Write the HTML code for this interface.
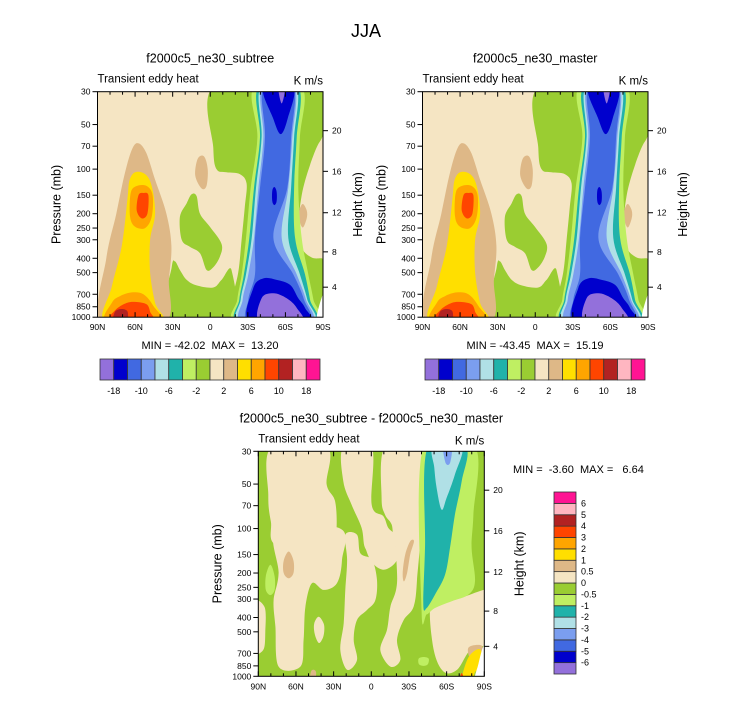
<!DOCTYPE html>
<html><head><meta charset="utf-8"><style>
html,body{margin:0;padding:0;background:#fff}
svg{display:block;font-family:"Liberation Sans",Arial,sans-serif}
text{white-space:pre}
</style></head><body>
<svg id="fig" width="733" height="701" viewBox="0 0 733 701" xmlns="http://www.w3.org/2000/svg">
<text x="366" y="37" font-size="18" text-anchor="middle">JJA</text>
</svg>
<script>
// ---------- data ----------
const pressureTicks=[30,50,70,100,150,200,250,300,400,500,700,850,1000];
const heightTicks=[4,8,12,16,20];
const heightTickPressure=[627,362,197,103.5,55];
const latTicks=[90,60,30,0,-30,-60,-90];
const latTickLabels=["90N","60N","30N","0","30S","60S","90S"];
const meanColors=["#9370DB","#0000CD","#4169E1","#7B9EEF","#B0E0E6","#20B2AA","#BFEF62","#9ACD32","#F5E5C3","#DEB887","#FFDF00","#FFA500","#FF4500","#B22222","#FFB6C1","#FF1493"];
const meanCbLabels=["-18","-10","-6","-2","2","6","10","18"];
const diffCbLabels=["-6","-5","-4","-3","-2","-1","-0.5","0","0.5","1","2","3","4","5","6"];
const statsA="MIN = -42.02  MAX =  13.20";
const statsB="MIN = -43.45  MAX =  15.19";
const statsC="MIN =  -3.60  MAX =   6.64";
// band layers (lat edges at pressure levels)
const bandLevels=[28,61,134,292,514,760,1080];
const bandLightGreenL=[-34.9,-37.6,-32.3,-28.5,-25.1,-21.6,-21.1], bandLightGreenR=[-73,-71.6,-70.3,-73,-78.3,-82.3,-85];
const bandTealL=[-38.4,-39.7,-34.9,-31.2,-26.9,-23.2,-23.2], bandTealR=[-70.3,-69,-66.9,-67.7,-75.6,-79.6,-82.3];
const bandLightBlueL=[-40.3,-41,-36.5,-33.1,-28.5,-24.3,-24.5], bandLightBlueR=[-68.5,-66.9,-64.5,-62.3,-71.6,-77.5,-81];
const bandCornflowerL=[-41.3,-42.4,-38.4,-34.9,-30.4,-25.9,-26.4], bandCornflowerR=[-67.1,-65.5,-62.3,-57,-69,-76.4,-79.6];
const bandRoyalL=[-42.4,-43.7,-39.7,-35.7,-35.7,-30.4,-31.7], bandRoyalR=[-66.3,-64.5,-61.5,-50.4,-66.3,-74.8,-78.3];
// mean-field blobs [lat, pressure]
const meanGreenTop=[[-2.4,28],[-66,28],[-66,1080],[-13,1080],[-17,760],[-22.3,500],[-25,300],[-27.6,180],[-29,125],[-23.6,108],[-13,105],[-5,100],[-2.4,72]];
const meanGreenMid=[[24.2,210],[18.8,170],[14.9,148],[10.9,152],[8.2,200],[0.3,245],[-9,320],[-7.7,390],[-2.4,460],[2.9,480],[8.2,370],[16.2,335],[22.8,300]];
const meanGreenLow=[[34.8,1080],[30.8,460],[28.1,420],[24.2,480],[18.8,560],[10.9,610],[-2.4,630],[-9,560],[-17,480],[-17,1080]];
const meanGreenRight=[[-66,28],[-94,28],[-94,1080],[-66,1080]];
const meanWheatRight=[[-87.6,65],[-79.6,94],[-73,150],[-70.3,250],[-73,341],[-81,395],[-89,400],[-94,400],[-94,65]];
const meanBurlyNH=[[87,1080],[83,400],[75,200],[68,105],[62,72],[57,67],[51,78],[44,118],[35,200],[31,330],[33,560],[36,1080]];
const meanGoldNH=[[84,1080],[78.6,620],[70.6,330],[66.1,160],[64.5,120],[60,105],[52,108],[46.7,130],[44,200],[48,300],[48,500],[44,800],[38.8,1080]];
const meanOrangeUp=[[64,210],[63.5,145],[58.7,130],[50.7,130],[46,150],[46.7,210],[52,250],[60,245]];
const meanRedUp=[[58.7,190],[57.3,150],[53.4,145],[49.4,150],[50.2,200],[54.7,215]];
const meanOrangeLow=[[82.6,1080],[78.6,800],[72,720],[62.7,680],[53.4,700],[45.4,840],[40,1080]];
const meanRedLow=[[80,1080],[76,900],[66.6,800],[58.7,790],[50.7,820],[48,920],[46.7,1080]];
const meanBrickLow=[[77,1080],[76,920],[70.6,880],[66,920],[67,1080]];
const meanBurlyEq=[[12,110],[10,85],[5,82],[2,100],[3,130],[7,135]];
const meanBurlySH=[[-73.8,172],[-71,190],[-70.6,215],[-73.8,248],[-77,215],[-77,190]];
const meanBlueTop=[[-42.4,28],[-66.3,28],[-62,45],[-56.2,58],[-50,45]];
const meanBlueSmall=[[-49.5,140],[-51.2,132],[-53,142],[-53,165],[-51.2,175],[-49.5,165]];
const meanBlueLow=[[-31.7,1080],[-34.4,635],[-42.4,547],[-53,560],[-63.7,605],[-70.3,745],[-75.6,865],[-78.3,1080]];
const meanPurpleTop=[[-54.4,28],[-59.7,28],[-57,36]];
const meanPurpleLow=[[-39.7,1080],[-41,745],[-50.4,690],[-61,745],[-69,865],[-73,1080]];
const meanWhiteCorner=[[-85,1080],[-88,780],[-94,620],[-94,1080]];
// difference-field blobs
const diffWheat1=[[79.4,28],[35.6,28],[35.6,50],[28.9,65],[27.6,99],[30,130],[75,130],[80,90],[82,60]];
const diffWheat2=[[22.3,28],[-0.3,28],[-0.3,69],[-9.6,82.6],[-13.5,99],[-18.9,110],[-21.5,135],[-13.5,166],[-2.9,158],[5,135],[7.7,99],[15.7,69],[22.3,47.8]];
const diffWheat4=[[-10.9,28],[-40.1,28],[-41.4,62],[-40.1,104],[-38,125],[-20,125],[-16.2,93.8],[-10.9,80.5],[-8.2,62]];
const diffWheatA=[[75.1,100],[24.7,100],[23.3,163],[27.3,234],[37.9,260],[47.2,234],[52.5,338],[53.9,565],[56.5,860],[73.8,860],[76.4,460],[77.8,306],[73.8,201]];
const diffWheatSmall=[[41.9,395],[37.9,440],[37.5,500],[39,560],[41.9,594],[45,520],[45.5,440]];
const diffWheatB=[[20.7,110],[11.4,110],[8.7,147],[-0.6,163],[-4.5,223],[-3.2,306],[3.4,356],[11.4,416],[14,565],[11.4,776],[19.3,904],[24.7,663],[22,437],[20.7,260],[19.3,163]];
const diffWheatC=[[3.4,119.5],[-20.5,119.5],[-20.5,163],[-9.8,190],[0.8,163]];
const diffWheatD=[[-20.5,100],[-37.7,100],[-36.4,223],[-33.7,338],[-25.8,416],[-20.5,565],[-23.1,776],[-15.2,860],[-7.2,663],[-12.5,484],[-15.2,338],[-20.5,234]];
const diffWheatE=[[-47,338],[-57.6,322],[-73.6,290],[-89.5,260],[-94,260],[-94,565],[-78.9,663],[-68.3,904],[-57.6,930],[-49.7,663]];
const diffWheatEdge=[[94,322],[85,340],[84.4,500],[86,663],[94,663]];
const diffLGBlob1=[[-37.7,760],[-41.7,740],[-45.7,760],[-45,830],[-41.7,850],[-38,830]];
const diffLGBlob2=[[80.4,176],[77,210],[77,260],[80.4,282],[84,260],[84,210]];
const diffBurly1=[[65.8,143],[62,165],[62,200],[65.8,217],[69.8,200],[69.8,165]];
const diffBurly2=[[-34,122],[-31,150],[-28.5,200],[-26,228],[-25,200],[-27,150],[-31,122]];
const diffBurly3=[[46,904],[44,940],[45,1080],[49,1080],[48,930]];
const diffLightGreen=[[-41.4,28],[-82.6,28],[-81.3,80.5],[-79.9,135],[-82.6,227],[-77.3,280],[-64,310],[-50.7,345],[-44.1,381],[-40.1,362]];
const diffTeal=[[-44.9,28],[-75.1,28],[-72,47.8],[-66.6,80.5],[-62.7,135],[-58.7,206],[-50.7,280],[-44.1,345],[-41.4,327],[-42.8,135]];
const diffLightBlue=[[-49.4,28],[-72,28],[-66.6,43.1],[-60,62],[-56,74.5],[-52,53.1],[-50.2,38.8]];
const diffCornflower=[[-57.4,28],[-64,28],[-62.7,36],[-59.2,36]];
const diffCornerBurly=[[-77.3,640],[-87.9,620],[-87.9,745],[-79.9,785]];
const diffCornerGold=[[-72,1080],[-77.3,745],[-86.6,655],[-87.9,826],[-82.6,940],[-79.9,1080]];
const diffCornerWhite=[[-89.5,620],[-94,620],[-94,1080],[-82.6,1080],[-85.3,826]];
const diffCornerRed=[[-70,1080],[-72,950],[-74,1080]];

// ---------- drawing ----------
const NS="http://www.w3.org/2000/svg";
const svg=document.getElementById('fig');
function mk(tag,attrs,parent){const e=document.createElementNS(NS,tag);for(const k in attrs)e.setAttribute(k,attrs[k]);(parent||svg).appendChild(e);return e;}
function band(L,R){const pts=[];for(let i=0;i<bandLevels.length;i++)pts.push([L[i],bandLevels[i]]);for(let i=bandLevels.length-1;i>=0;i--)pts.push([R[i],bandLevels[i]]);return pts;}
const C=meanColors;
const meanLayers=[
 [C[7],meanGreenTop],[C[7],meanGreenMid],[C[7],meanGreenLow],[C[7],meanGreenRight],[C[8],meanWheatRight],
 [C[9],meanBurlyNH],[C[10],meanGoldNH],[C[11],meanOrangeUp],[C[12],meanRedUp],[C[11],meanOrangeLow],[C[12],meanRedLow],[C[13],meanBrickLow],
 [C[9],meanBurlyEq],[C[9],meanBurlySH],
 [C[6],band(bandLightGreenL,bandLightGreenR)],[C[5],band(bandTealL,bandTealR)],[C[4],band(bandLightBlueL,bandLightBlueR)],
 [C[3],band(bandCornflowerL,bandCornflowerR)],[C[2],band(bandRoyalL,bandRoyalR)],
 [C[1],meanBlueTop],[C[1],meanBlueSmall],[C[1],meanBlueLow],[C[0],meanPurpleTop],[C[0],meanPurpleLow],["#ffffff",meanWhiteCorner]
];
const diffLayers=[
 [C[8],diffWheat1],[C[8],diffWheat2],[C[8],diffWheat4],[C[8],diffWheatA],[C[8],diffWheatSmall],[C[8],diffWheatB],
 [C[8],diffWheatC],[C[8],diffWheatD],[C[8],diffWheatE],[C[8],diffWheatEdge],
 [C[6],diffLGBlob1],[C[6],diffLGBlob2],
 [C[9],diffBurly1],[C[9],diffBurly2],[C[9],diffBurly3],
 [C[6],diffLightGreen],[C[5],diffTeal],[C[4],diffLightBlue],[C[3],diffCornflower],
 [C[9],diffCornerBurly],[C[10],diffCornerGold],["#ffffff",diffCornerWhite],[C[12],diffCornerRed]
];
function smooth(pts){const n=pts.length;let d=`M${pts[0][0].toFixed(1)},${pts[0][1].toFixed(1)}`;
 for(let i=0;i<n;i++){const p0=pts[(i-1+n)%n],p1=pts[i],p2=pts[(i+1)%n],p3=pts[(i+2)%n];
  const c1=[p1[0]+(p2[0]-p0[0])/6,p1[1]+(p2[1]-p0[1])/6],c2=[p2[0]-(p3[0]-p1[0])/6,p2[1]-(p3[1]-p1[1])/6];
  d+=`C${c1[0].toFixed(1)},${c1[1].toFixed(1)} ${c2[0].toFixed(1)},${c2[1].toFixed(1)} ${p2[0].toFixed(1)},${p2[1].toFixed(1)}`;}
 return d+'Z';}
let clipId=0;
function panel(o){
 const {x0,y0,w,h,bg,layers,title,stats,statsX,statsY,statsAnchor,key}=o;
 const xs=lat=>x0+(90-lat)/180*w;
 const ys=p=>y0+Math.log(p/30)/Math.log(1000/30)*h;
 const g=mk('g',{});
 
 
 const cid='clip'+(clipId++);
 const cp=mk('clipPath',{id:cid},g);mk('rect',{x:x0,y:y0,width:w,height:h},cp);
 const field=mk('g',{'clip-path':`url(#${cid})`},g);
 
 
 const bgr=mk('rect',{x:x0,y:y0,width:w,height:h,fill:bg},field);
 
 
 layers.forEach(([col,pts])=>{const pa=mk('path',{d:smooth(pts.map(q=>[xs(q[0]),ys(q[1])])),fill:col},field);
  
  });
 const fr=mk('rect',{x:x0,y:y0,width:w,height:h,fill:'none',stroke:'#000','stroke-width':1},g);
 
 
 pressureTicks.forEach(p=>{const y=ys(p);mk('line',{x1:x0-5,x2:x0,y1:y,y2:y,stroke:'#000'},g);
  const t=mk('text',{x:x0-7,y:y+3,'font-size':8.5,'text-anchor':'end'},g);t.textContent=p;
  
  });
 heightTicks.forEach((z,i)=>{const y=ys(heightTickPressure[i]);mk('line',{x1:x0+w,x2:x0+w+5,y1:y,y2:y,stroke:'#000'},g);
  const t=mk('text',{x:x0+w+9,y:y+3,'font-size':8.5},g);t.textContent=z;
  
  });
 for(let lat=90;lat>=-90;lat-=10){const x=xs(lat);const L=(lat%30===0)?5:3;
  mk('line',{x1:x,x2:x,y1:y0,y2:y0+L,stroke:'#000'},g);mk('line',{x1:x,x2:x,y1:y0+h,y2:y0+h-L,stroke:'#000'},g);}
 latTicks.forEach((lat,i)=>{const t=mk('text',{x:xs(lat),y:y0+h+13,'font-size':8.5,'text-anchor':'middle'},g);t.textContent=latTickLabels[i];
  
  });
 const yc=y0+h/2;
 const yl=mk('text',{x:0,y:0,'font-size':12.5,'text-anchor':'middle',transform:`translate(${x0-37},${yc}) rotate(-90)`},g);yl.textContent='Pressure (mb)';
 
 
 const yr=mk('text',{x:0,y:0,'font-size':12.5,'text-anchor':'middle',transform:`translate(${x0+w+39},${yc}) rotate(-90)`},g);yr.textContent='Height (km)';
 
 
 const tt=mk('text',{x:x0+w/2,y:y0-29,'font-size':12.5,'text-anchor':'middle'},g);tt.textContent=title;
 
 
 const ls=mk('text',{x:x0,y:y0-9,'font-size':11.5},g);ls.textContent='Transient eddy heat';
 
 
 const rs=mk('text',{x:x0+w,y:y0-7,'font-size':11.5,'text-anchor':'end'},g);rs.textContent='K m/s';
 
 
 const st=mk('text',{x:statsX,y:statsY,'font-size':11,'text-anchor':statsAnchor},g);st.textContent=stats;
 
 
}
function hbar(x0,y0,w,h,key){const g=mk('g',{});
 
 
 const bw=w/meanColors.length;
 meanColors.forEach((c,i)=>{const r=mk('rect',{x:x0+i*bw,y:y0,width:bw,height:h,fill:c,stroke:'#333','stroke-width':0.8},g);
  
  });
 meanCbLabels.forEach((l,i)=>{const t=mk('text',{x:x0+(2*i+1)*bw,y:y0+h+14,'font-size':9,'text-anchor':'middle'},g);t.textContent=l;
  
  });}
function vbar(x0,y0,w,h){const g=mk('g',{});
 
 
 const n=meanColors.length,bh=h/n;
 meanColors.forEach((c,i)=>{const r=mk('rect',{x:x0,y:y0+h-(i+1)*bh,width:w,height:bh,fill:c,stroke:'#333','stroke-width':0.8},g);
  
  });
 diffCbLabels.forEach((l,i)=>{const t=mk('text',{x:x0+w+5,y:y0+h-(i+1)*bh+3,'font-size':9},g);t.textContent=l;
  
  });}

panel({x0:97.5,y0:91.7,w:225.5,h:225.5,bg:C[8],layers:meanLayers,title:'f2000c5_ne30_subtree',stats:statsA,statsX:210,statsY:349,statsAnchor:'middle',key:'subtree'});
panel({x0:422.5,y0:91.7,w:225.5,h:225.5,bg:C[8],layers:meanLayers,title:'f2000c5_ne30_master',stats:statsB,statsX:535,statsY:349,statsAnchor:'middle',key:'master'});
panel({x0:258.3,y0:451.3,w:226,h:225,bg:C[7],layers:diffLayers,title:'f2000c5_ne30_subtree - f2000c5_ne30_master',stats:statsC,statsX:513,statsY:473,statsAnchor:'start',key:'difference'});
hbar(100,359,220,21,'subtree');
hbar(425,359,220,21,'master');
vbar(554,492,22,182);
</script>
</body></html>
